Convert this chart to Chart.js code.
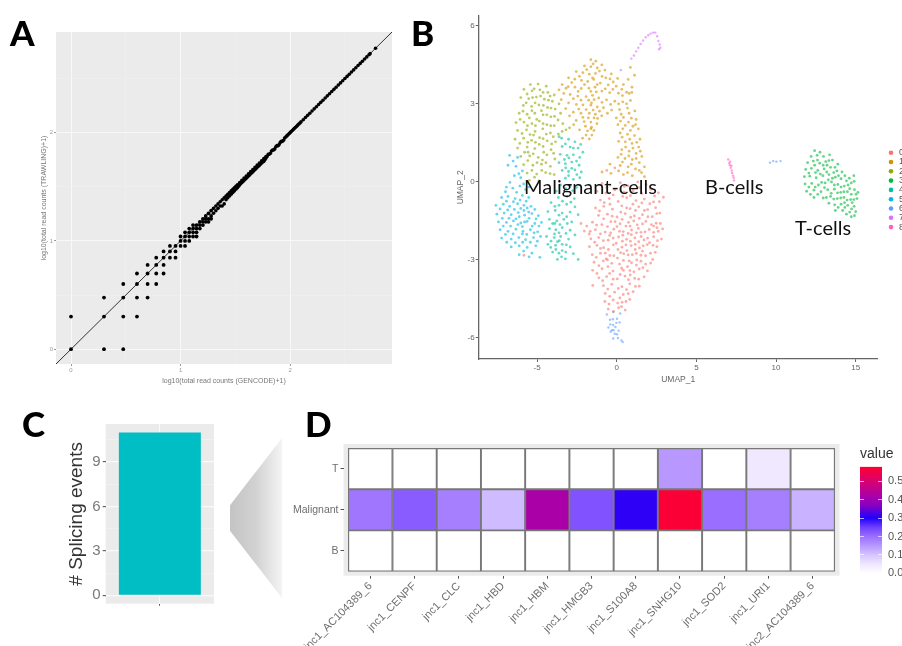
<!DOCTYPE html>
<html>
<head>
<meta charset="utf-8">
<title>Splicing figure</title>
<script src="https://cdn.jsdelivr.net/npm/chart.js@4"></script>
<style>
  html, body { margin: 0; padding: 0; background: #fff; }
  #stage { position: relative; width: 902px; height: 646px; overflow: hidden; filter: blur(0.55px); }
  canvas { position: absolute; }
  #chartB { filter: blur(0.5px); }
  .tag { position: absolute; font-family: Lato, "Open Sans", sans-serif; color: #111; line-height: 1; white-space: nowrap; }
  .letter { font-weight: 900; font-size: 35px; color: #000; }
  #wedge {
    position: absolute; left: 230px; top: 438px; width: 52px; height: 160px;
    background: linear-gradient(to right, #c4c4c4, #d2d2d2 50%, #f4f4f4);
    clip-path: polygon(0 42%, 100% 0, 100% 100%, 0 58%);
  }
</style>
</head>
<body>
<div id="stage">
  <canvas id="chartA" width="410" height="385" style="left:0;top:0"></canvas>
  <canvas id="chartB" width="482" height="385" style="left:420px;top:0"></canvas>
  <canvas id="chartC" width="170" height="215" style="left:60px;top:410px"></canvas>
  <div id="wedge"></div>
  <canvas id="chartD" width="570" height="216" style="left:280px;top:430px"></canvas>
  <canvas id="chartScale" width="60" height="140" style="left:860px;top:446px"></canvas>
  <div class="tag letter" style="left:10px;top:15px">A</div>
  <div class="tag letter" style="left:411px;top:15px">B</div>
  <div class="tag letter" style="left:22px;top:406px">C</div>
  <div class="tag letter" style="left:305px;top:406px">D</div>
  <div class="tag" style="left:524px;top:176px;font-size:20px">Malignant-cells</div>
  <div class="tag" style="left:705px;top:176px;font-size:20px">B-cells</div>
  <div class="tag" style="left:795px;top:217px;font-size:20px">T-cells</div>
</div>
<script>
// panel A, log10(count+1) pairs
const readCountsLow = [[0,0],[0,.301],[.301,0],[.477,0],[.301,.301],[.301,.477],[.477,.301],[.477,.477],[.477,.602],[.602,.301],[.602,.477],[.602,.602],[.602,.699],[.699,.477],[.699,.602],[.699,.699],[.699,.778],[.778,.602],[.778,.699],[.778,.778],[.778,.845],[.845,.699],[.845,.778],[.845,.845],[.845,.903],[.903,.845],[.903,.903],[.903,.954],[.954,.845],[.954,.903],[.954,.954],[1,.954],[1,1],[1,1.041],[1.041,.954],[1.041,1],[1.041,1.041],[1.041,1.079],[1.079,1],[1.079,1.041],[1.079,1.079],[1.079,1.114],[1.114,1.041],[1.114,1.079],[1.114,1.114],[1.114,1.146],[1.146,1.041],[1.146,1.079],[1.146,1.114],[1.146,1.146],[1.176,1.114],[1.176,1.146],[1.176,1.176],[1.204,1.146],[1.204,1.176],[1.204,1.204],[1.23,1.176],[1.23,1.204],[1.23,1.23],[1.255,1.176],[1.255,1.204],[1.255,1.255],[1.279,1.204],[1.279,1.23],[1.279,1.279]];
const readCountsHigh = [[1.301,1.255],[1.301,1.301],[1.322,1.279],[1.322,1.322],[1.342,1.301],[1.342,1.342],[1.362,1.322],[1.362,1.362],[1.38,1.322],[1.38,1.38],[1.398,1.342],[1.398,1.398],[1.415,1.38],[1.415,1.415],[1.431,1.398],[1.431,1.431],[1.447,1.415],[1.447,1.447],[1.462,1.431],[1.462,1.462],[1.477,1.447],[1.477,1.477],[1.491,1.462],[1.491,1.491],[1.505,1.477],[1.505,1.505],[1.519,1.491],[1.519,1.519],[1.53,1.505],[1.54,1.519],[1.54,1.54],[1.55,1.53],[1.56,1.54],[1.56,1.56],[1.57,1.55],[1.58,1.56],[1.58,1.58],[1.59,1.57],[1.6,1.58],[1.6,1.6],[1.61,1.59],[1.62,1.6],[1.62,1.62],[1.63,1.61],[1.64,1.62],[1.64,1.64],[1.65,1.63],[1.66,1.64],[1.66,1.66],[1.67,1.65],[1.68,1.66],[1.68,1.68],[1.69,1.67],[1.7,1.68],[1.7,1.7],[1.71,1.69],[1.72,1.7],[1.72,1.72],[1.73,1.71],[1.74,1.72],[1.74,1.74],[1.75,1.73],[1.76,1.735],[1.76,1.76],[1.77,1.75],[1.78,1.765],[1.78,1.78],[1.79,1.78],[1.8,1.8],[1.81,1.8],[1.82,1.81],[1.83,1.83],[1.84,1.84],[1.85,1.84],[1.86,1.85],[1.87,1.87],[1.88,1.88],[1.89,1.88],[1.9,1.89],[1.91,1.91],[1.92,1.92],[1.93,1.92],[1.94,1.93],[1.95,1.95],[1.96,1.96],[1.97,1.97],[1.98,1.98],[1.99,1.99],[2,2],[2.01,2.01],[2.02,2.02],[2.03,2.03],[2.04,2.04],[2.05,2.05],[2.06,2.06],[2.07,2.07],[2.08,2.08],[2.09,2.09],[2.1,2.1],[2.12,2.12],[2.14,2.14],[2.16,2.16],[2.18,2.18],[2.2,2.2],[2.22,2.22],[2.24,2.24],[2.26,2.26],[2.28,2.28],[2.3,2.3],[2.32,2.32],[2.34,2.34],[2.36,2.36],[2.38,2.38],[2.4,2.4],[2.42,2.42],[2.44,2.44],[2.46,2.46],[2.48,2.48],[2.5,2.5],[2.52,2.52],[2.54,2.54],[2.56,2.56],[2.58,2.58],[2.6,2.6],[2.62,2.62],[2.64,2.64],[2.66,2.66],[2.68,2.68],[2.7,2.7],[2.72,2.72],[2.73,2.73],[2.78,2.78]];
const identityLine = [[-0.137,-0.137],[2.93,2.93]];

// panel B, UMAP cells estimated by cluster
const cluster0 = [[-0.92,-0.08],[-0.41,-0.14],[0.23,-0.05],[0.71,-0.17],[1.32,-0.02],[1.84,-0.12],[-1.24,-0.38],[-0.68,-0.45],[-0.12,-0.33],[0.46,-0.41],[1.03,-0.36],[1.58,-0.47],[2.13,-0.31],[2.62,-0.44],[-1.02,-0.72],[-0.47,-0.66],[0.09,-0.77],[0.63,-0.63],[1.21,-0.74],[1.73,-0.68],[2.31,-0.79],[2.93,-0.61],[-1.33,-1.02],[-0.81,-0.96],[-0.27,-1.07],[0.32,-0.94],[0.84,-1.05],[1.38,-0.98],[1.94,-1.09],[2.44,-1.01],[-1.14,-1.31],[-0.58,-1.26],[0.02,-1.37],[0.53,-1.24],[1.11,-1.33],[1.62,-1.28],[2.23,-1.36],[2.71,-1.22],[-2.24,-1.62],[-1.52,-1.57],[-0.93,-1.66],[-0.37,-1.55],[0.21,-1.63],[0.74,-1.58],[1.29,-1.67],[1.83,-1.54],[2.48,-1.61],[-2.03,-1.91],[-1.34,-1.86],[-0.72,-1.95],[-0.18,-1.84],[0.41,-1.93],[0.93,-1.87],[1.52,-1.96],[2.04,-1.85],[2.61,-1.92],[2.88,-1.83],[-1.62,-2.21],[-1.13,-2.16],[-0.53,-2.26],[0.12,-2.14],[0.62,-2.23],[1.14,-2.17],[1.71,-2.25],[2.32,-2.13],[2.81,-2.22],[-1.71,-2.51],[-1.24,-2.46],[-0.82,-2.55],[-0.21,-2.44],[0.33,-2.53],[0.91,-2.47],[1.43,-2.56],[1.92,-2.43],[2.52,-2.51],[-1.53,-2.82],[-1.02,-2.76],[-0.43,-2.85],[0.24,-2.74],[0.72,-2.83],[1.23,-2.77],[1.81,-2.86],[2.42,-2.73],[-1.42,-3.11],[-0.84,-3.06],[-0.31,-3.15],[0.42,-3.04],[0.93,-3.13],[1.52,-3.07],[2.13,-3.14],[-1.51,-3.42],[-0.92,-3.36],[-0.23,-3.45],[0.31,-3.34],[0.83,-3.43],[1.41,-3.37],[1.93,-3.44],[-1.12,-3.71],[-0.63,-3.66],[0.04,-3.75],[0.52,-3.64],[1.13,-3.73],[1.72,-3.67],[-0.83,-4.01],[-0.31,-3.96],[0.33,-4.05],[0.82,-3.94],[1.42,-4.03],[-0.72,-4.31],[-0.13,-4.26],[0.41,-4.35],[1.03,-4.24],[-0.74,-4.62],[-0.22,-4.56],[0.34,-4.65],[0.82,-4.54],[-0.53,-4.91],[0.12,-4.86],[0.53,-4.95],[-0.62,-0.24],[0.48,-0.2],[1.58,-0.83],[0.26,-1.18],[-0.1,-1.55],[0.58,-1.72],[1.07,-1.52],[1.36,-1.81],[2.18,-1.66],[2.53,-1.78],[-0.44,-2.08],[0.38,-2.07],[0.92,-2.05],[1.53,-2.12],[2.06,-2.36],[-0.03,-2.38],[0.64,-2.66],[1.16,-2.62],[1.62,-2.68],[-0.66,-2.98],[0.05,-2.95],[0.68,-3.28],[1.24,-3.22],[-0.55,-3.28],[0.22,-3.58],[0.85,-3.6],[-1.72,-2.02],[-1.88,-1.72],
  [-0.22,-0.52],[0.86,-0.55],[1.42,-0.24],[2.38,-0.56],[-0.78,-0.82],[0.38,-0.58],[1.02,-0.88],[2.08,-0.86],[2.68,-0.78],[-1.08,-1.14],[-0.42,-0.88],[0.62,-1.02],[1.18,-1.12],[1.74,-1.12],[2.52,-1.24],[-0.82,-1.44],[-0.28,-1.34],[0.34,-1.46],[0.88,-1.38],[1.42,-1.42],[1.96,-1.36],[-1.26,-1.68],[-0.58,-1.74],[0.02,-1.74],[0.84,-1.72],[1.62,-1.64],[2.32,-1.72],[2.74,-1.62],[-1.66,-1.92],[-1.02,-2.02],[-0.38,-1.98],[0.18,-1.92],[0.72,-2],[1.24,-1.98],[1.78,-1.94],[2.32,-1.96],[-1.38,-2.34],[-0.84,-2.28],[-0.22,-2.18],[0.36,-2.3],[0.86,-2.3],[1.38,-2.32],[1.94,-2.18],[2.56,-2.28],[-1.02,-2.58],[-0.52,-2.62],[0.08,-2.62],[0.58,-2.44],[1.16,-2.42],[1.66,-2.48],[2.28,-2.46],[-1.28,-2.92],[-0.72,-2.76],[-0.18,-2.86],[0.44,-2.78],[0.98,-2.82],[1.52,-2.84],[2.12,-2.76],[-1.12,-3.24],[-0.58,-3.02],[0.18,-3.18],[0.78,-3.06],[1.26,-3.02],[1.82,-3.18],[2.26,-3],[-1.24,-3.54],[-0.44,-3.54],[0.42,-3.42],[1.08,-3.48],[1.64,-3.32],[-0.88,-3.82],[-0.22,-3.76],[0.74,-3.78],[1.38,-3.76],[-0.56,-4.14],[0.1,-4.12],[0.62,-4.16],[1.18,-4.04],[-0.44,-4.42],[0.2,-4.48],[0.72,-4.32],[-0.48,-4.72],[0.06,-4.68],[0.58,-4.62],[-0.2,-5],[0.3,-4.82],[-1.5,-4],[-0.62,0.42],[-0.12,0.52],[-5.82,-2.84]];
const cluster1 = [[-1.62,4.68],[-1.31,4.62],[-0.93,4.48],[-2.02,4.44],[-1.62,4.41],[-1.22,4.36],[-0.74,4.28],[-0.34,4.13],[-2.54,4.22],[-2.12,4.18],[-1.72,4.12],[-1.33,4.15],[-0.92,4.04],[-0.42,3.94],[0.06,3.96],[-3.02,3.98],[-2.63,3.93],[-2.21,3.88],[-1.82,3.84],[-1.44,3.92],[-1.03,3.78],[-0.53,3.71],[-0.03,3.66],[0.42,3.72],[-3.42,3.72],[-3.04,3.64],[-2.62,3.62],[-2.23,3.57],[-1.74,3.58],[-1.36,3.62],[-0.93,3.47],[-0.44,3.41],[0.11,3.39],[0.62,3.43],[0.96,3.62],[-3.32,3.38],[-2.92,3.34],[-2.44,3.28],[-1.92,3.26],[-1.52,3.31],[-1.13,3.21],[-0.64,3.13],[-0.12,3.08],[0.38,3.06],[0.86,3.11],[-3.02,3.02],[-2.53,2.96],[-2.12,2.94],[-1.62,2.93],[-1.22,2.86],[-0.83,2.83],[-0.32,2.74],[0.18,2.76],[0.68,2.82],[1.14,2.71],[-2.72,2.66],[-2.24,2.62],[-1.72,2.62],[-1.34,2.58],[-0.94,2.52],[-0.02,2.44],[0.42,2.46],[0.92,2.43],[1.22,2.38],[-2.54,2.34],[-2.04,2.3],[-1.62,2.28],[-1.24,2.22],[0.08,2.18],[0.54,2.15],[1.02,2.12],[1.36,2.02],[-2.33,1.98],[-1.83,1.94],[-1.43,1.96],[0.22,1.86],[0.68,1.81],[1.12,1.76],[1.46,1.62],[-2.14,1.66],[-1.72,1.63],[0.12,1.54],[0.54,1.52],[0.96,1.46],[1.38,1.32],[0.32,1.22],[0.78,1.16],[1.22,1.08],[1.58,0.96],[0.08,0.92],[0.52,0.88],[0.98,0.84],[1.42,0.72],[1.74,0.56],[-0.42,0.66],[0.22,0.61],[0.72,0.56],[1.18,0.48],[1.56,0.34],[-0.92,0.36],[-0.36,0.31],[0.42,0.26],[0.98,0.22],[1.74,0.18],[0.86,4.38],[1.12,4.08],[0.72,3.92],[-1.58,3.02],[-1.42,2.44],[-1.58,2.08],[0.95,3.42],
  [-1.48,4.52],[-1.08,4.24],[-1.88,4.3],[-2.34,4.04],[-1.52,3.98],[-0.68,3.98],[-0.22,3.82],[-2.82,3.8],[-2.02,3.72],[-1.22,3.72],[-0.72,3.56],[-0.24,3.54],[0.32,3.54],[-3.18,3.58],[-2.42,3.46],[-1.62,3.46],[-1.28,3.44],[0.36,3.3],[0.78,3.38],[-2.72,3.18],[-2.24,3.12],[-1.76,3.12],[-1.42,3.14],[-0.92,3.04],[-0.38,2.96],[0.12,2.98],[0.62,2.98],[-2.38,2.78],[-1.92,2.76],[-1.48,2.74],[-1.08,2.7],[-0.58,2.62],[0.28,2.58],[0.78,2.62],[-2.12,2.46],[-1.78,2.44],[-1.2,2.42],[0.24,2.32],[0.74,2.28],[1.18,2.18],[-1.96,2.12],[-1.62,2.02],[0.38,2.02],[0.86,1.96],[-1.92,1.78],[-1.56,1.78],[0.34,1.7],[0.82,1.62],[1.26,1.5],[0.56,1.32],[1.02,1.28],[1.48,1.16],[0.28,1.04],[0.76,0.98],[1.22,0.88],[0.36,0.74],[0.92,0.66],[1.42,0.42],[0.12,0.4],[0.68,0.34],[-3.62,3.52],[-3.48,3.14],[-3.2,2.8],[-2.96,2.52],[-2.7,2.18]];
const cluster2 = [[-5.42,3.72],[-4.93,3.74],[-4.42,3.66],[-5.82,3.54],[-5.31,3.48],[-4.82,3.52],[-4.32,3.42],[-3.92,3.32],[-6.02,3.22],[-5.52,3.18],[-5.04,3.24],[-4.54,3.16],[-4.04,3.08],[-3.62,2.98],[-5.86,2.92],[-5.34,2.88],[-4.88,2.94],[-4.34,2.84],[-3.86,2.78],[-3.52,2.62],[-6.12,2.62],[-5.62,2.58],[-5.14,2.62],[-4.62,2.56],[-4.13,2.48],[-3.68,2.36],[-6.32,2.26],[-5.82,2.28],[-5.32,2.22],[-4.86,2.32],[-4.38,2.18],[-3.92,2.14],[-6.22,1.96],[-5.66,1.98],[-5.12,1.92],[-4.64,2.02],[-4.16,1.86],[-3.66,1.82],[-6.38,1.62],[-5.84,1.66],[-5.34,1.58],[-4.84,1.68],[-4.36,1.56],[-3.84,1.52],[-6.22,1.28],[-5.62,1.32],[-5.14,1.26],[-4.62,1.34],[-4.12,1.22],[-6.02,0.96],[-5.46,0.98],[-4.92,0.92],[-4.38,1.02],[-3.88,0.86],[-5.84,0.64],[-5.26,0.62],[-4.72,0.66],[-4.16,0.58],[-5.62,0.32],[-5.02,0.28],[-4.46,0.34],[-3.92,0.26],[-5.48,0.04],[-4.88,0.02],[-5.12,3.02],[-4.72,2.72],[-5.02,2.38],[-4.62,2.22],[-5.22,1.78],[-4.86,1.42],[-4.42,1.82],[-5.32,2.72],[-4.18,3.28],[-5.56,1.12],[-4.66,0.82],
  [-5.18,3.56],[-4.62,3.42],[-5.62,3.36],[-5.28,3.22],[-4.78,3.28],[-4.28,3.12],[-5.68,3.02],[-4.6,2.92],[-4.12,2.82],[-5.88,2.7],[-5.48,2.44],[-4.38,2.56],[-3.9,2.5],[-6.06,2.38],[-5.6,2.14],[-5.1,2.14],[-4.14,2.14],[-5.94,1.84],[-5.44,1.8],[-4.62,1.64],[-3.98,1.72],[-6.08,1.46],[-5.58,1.5],[-5.1,1.5],[-4.58,1.12],[-4.08,1.44],[-5.78,1.12],[-5.24,1.06],[-3.96,1.08],[-5.58,0.8],[-5,0.72],[-4.44,0.72],[-5.32,0.42],[-4.7,0.42],[-4.18,0.3],[-5.16,0.16],[-3.38,2.22],[-3.18,1.98],[-3.42,1.92],[-2.96,2.06]];
const cluster3 = [[12.42,1.18],[12.76,1.12],[12.2,0.96],[12.58,1],[12.98,0.96],[13.36,1.02],[11.98,0.72],[12.34,0.78],[12.74,0.7],[13.12,0.76],[13.54,0.82],[13.88,0.66],[11.86,0.46],[12.22,0.5],[12.62,0.42],[13.02,0.48],[13.42,0.54],[13.82,0.4],[14.14,0.36],[11.78,0.18],[12.12,0.2],[12.52,0.14],[12.94,0.22],[13.32,0.26],[13.72,0.16],[14.08,0.1],[14.42,0.02],[11.82,-0.1],[12.24,-0.08],[12.66,-0.14],[13.08,-0.06],[13.48,-0.02],[13.88,-0.12],[14.28,-0.18],[14.72,-0.06],[14.88,0.22],[11.92,-0.38],[12.38,-0.34],[12.82,-0.4],[13.24,-0.32],[13.66,-0.3],[14.06,-0.42],[14.48,-0.4],[14.92,-0.32],[15.14,-0.42],[12.38,-0.62],[12.96,-0.64],[13.42,-0.58],[13.84,-0.66],[14.26,-0.62],[14.68,-0.7],[15.08,-0.66],[13.32,-0.84],[13.68,-0.9],[14.08,-0.88],[14.5,-0.92],[14.9,-0.96],[13.72,-1.12],[14.18,-1.12],[14.62,-1.18],[15,-1.16],[14.72,-1.36],[14.92,-1.32],[12.48,0.34],[13.2,0.62],[13.62,0.34],[14.62,-0.28],[14.78,-0.82],[14.3,-0.82],
  [12.6,0.82],[12.96,0.62],[13.32,0.8],[13.7,0.54],[12.06,0.32],[12.42,0.62],[12.78,0.28],[13.18,0.36],[13.54,0.12],[13.92,0.22],[14.32,0.22],[14.6,0.12],[12.06,-0.22],[12.46,-0.22],[12.86,-0.04],[13.28,0.06],[13.66,-0.14],[14.08,-0.22],[14.52,-0.14],[14.9,0],[12.16,-0.5],[12.62,-0.5],[13.04,-0.24],[13.46,-0.46],[13.86,-0.44],[14.26,-0.4],[14.72,-0.5],[15.02,-0.5],[13.16,-0.62],[13.62,-0.68],[14.06,-0.64],[14.46,-0.72],[14.88,-0.7],[13.9,-1],[14.32,-1],[14.74,-1.06],[14.42,-1.26]];
const cluster4 = [[-3.02,1.62],[-2.62,1.52],[-3.42,1.34],[-2.92,1.32],[-2.42,1.28],[-2.12,1.12],[-3.54,1.04],[-3.12,1],[-2.72,1.02],[-2.32,0.92],[-3.62,0.72],[-3.22,0.68],[-2.82,0.74],[-2.36,0.62],[-3.42,0.42],[-3.02,0.38],[-2.62,0.44],[-2.22,0.36],[-3.22,0.12],[-2.72,0.08],[-2.32,0.14],[-2.92,-0.18],[-2.52,-0.24],[-3.66,-0.62],[-3.12,-0.58],[-2.66,-0.66],[-4.12,-0.82],[-3.62,-0.92],[-3.14,-0.88],[-2.62,-0.98],[-4.32,-1.16],[-3.86,-1.12],[-3.42,-1.22],[-2.92,-1.18],[-2.42,-1.28],[-4.22,-1.46],[-3.76,-1.52],[-3.32,-1.46],[-2.82,-1.56],[-4.22,-1.82],[-3.82,-1.86],[-3.42,-1.78],[-2.92,-1.88],[-4.4,-2.12],[-3.92,-2.16],[-3.52,-2.12],[-3.02,-2.22],[-2.62,-2.06],[-4.32,-2.42],[-3.84,-2.46],[-3.42,-2.42],[-2.92,-2.52],[-4.02,-2.72],[-3.62,-2.76],[-3.2,-2.72],[-2.72,-2.78],[-3.72,-3],[-3.22,-2.98],[-3.88,-1.62],[-3.72,-2.32],[-3.9,-2.02],[-3.62,1.72],[-2.42,-3],
  [-3.22,1.44],[-2.72,1.28],[-3.28,0.84],[-3,0.9],[-2.52,0.78],[-3.2,0.52],[-2.82,0.5],[-3.02,0.22],[-2.5,0.26],[-2.76,-0.36],[-3.4,-0.76],[-2.88,-0.8],[-3.88,-0.96],[-3.62,-1.3],[-3.14,-1.36],[-4.02,-1.62],[-3.56,-1.66],[-3.1,-1.62],[-3.62,-1.98],[-3.18,-2],[-4.12,-2.3],[-3.6,-2.28],[-3.16,-2.44],[-4.14,-2.54],[-3.82,-2.62],[-3.42,-2.66],[-3.46,-2.9],[-3.52,-0.14],[-3.2,-0.28],[-3.8,-0.38],[-3.46,1.66],[-2.26,1.42]];
const cluster5 = [[-6.72,1],[-6.22,0.92],[-6.82,0.62],[-6.32,0.58],[-5.92,0.4],[-6.42,0.22],[-6.02,0.14],[-6.92,-0.22],[-6.52,-0.26],[-6.08,-0.18],[-5.72,-0.32],[-7.22,-0.62],[-6.82,-0.58],[-6.38,-0.66],[-5.92,-0.54],[-5.52,-0.62],[-7.58,-0.92],[-7.12,-0.88],[-6.72,-0.96],[-6.22,-0.86],[-5.82,-0.92],[-5.38,-0.96],[-7.52,-1.26],[-7.06,-1.22],[-6.62,-1.28],[-6.18,-1.2],[-5.78,-1.3],[-5.32,-1.24],[-4.92,-1.32],[-7.42,-1.56],[-6.92,-1.58],[-6.48,-1.52],[-6.02,-1.6],[-5.62,-1.54],[-5.14,-1.62],[-4.72,-1.58],[-7.32,-1.86],[-6.82,-1.92],[-6.32,-1.84],[-5.88,-1.92],[-5.42,-1.86],[-4.96,-1.94],[-7.22,-2.18],[-6.62,-2.22],[-6.14,-2.16],[-5.72,-2.24],[-5.22,-2.16],[-4.78,-2.12],[-6.62,-2.52],[-6.12,-2.48],[-5.62,-2.54],[-5.08,-2.48],[-6.12,-2.82],[-5.32,-2.76],[-4.82,-2.92],[-5.82,-1.12],[-6.12,-1.36],[-5.92,-1.74],[-5.52,-1.18],[-6.42,-1.08],[-5.5,-0.22],[-5.92,-2.02],
  [-6.5,0.78],[-6.14,0.3],[-6.7,-0.04],[-6.28,-0.42],[-5.84,-0.1],[-6.98,-0.4],[-6.06,-0.72],[-5.68,-0.76],[-6.92,-0.76],[-7.32,-1.06],[-6.48,-0.78],[-6.84,-1.1],[-6.02,-1.04],[-5.62,-1.02],[-5.14,-1.08],[-7.18,-1.42],[-6.76,-1.42],[-6.32,-1.44],[-5.5,-1.42],[-5.06,-1.44],[-7.12,-1.72],[-6.66,-1.72],[-6.2,-1.66],[-5.78,-1.56],[-5.3,-1.72],[-4.88,-1.72],[-6.98,-2.04],[-6.5,-2.02],[-5.64,-2.04],[-5.18,-1.98],[-6.9,-2.34],[-6.36,-2.36],[-5.9,-2.34],[-5.42,-2.34],[-4.98,-2.3],[-5.84,-2.68],[-5.5,-2.9]];
const cluster6 = [[-0.62,-5.12],[-0.22,-5.02],[0.22,-5.08],[-0.42,-5.32],[0.02,-5.28],[-0.22,-5.52],[-0.52,-5.62],[-0.08,-5.6],[0.18,-5.42],[-0.38,-5.78],[-0.12,-5.86],[0.12,-5.74],[-0.22,-6.04],[0.08,-6.02],[0.3,-6.12],[0.38,-6.18],[-0.3,-5.72],[-0.24,-5.3],[-0.4,-5.5],[-0.02,-5.44],[-0.2,-5.72],[0.02,-5.88],[9.62,0.72],[9.82,0.78],[10.02,0.76],[10.28,0.78]];
const cluster7 = [[0.92,4.72],[1.08,4.84],[1.22,5],[1.36,5.14],[1.5,5.28],[1.66,5.42],[1.82,5.54],[1.98,5.62],[2.12,5.68],[2.28,5.72],[2.42,5.72],[2.54,5.58],[2.62,5.4],[2.7,5.26],[2.74,5.14],[0.26,4.28],[2.66,5.08]];
const cluster8 = [[7,0.84],[7.06,0.7],[7.1,0.62],[7.16,0.52],[7.22,0.42],[7.24,0.32],[7.3,0.22],[7.34,0.14],[7.36,0.04],[7.12,0.76],[7.2,0.6]];
const clusterNames = ['0','1','2','3','4','5','6','7','8'];
const clusterColors = ['#F8766D','#D39200','#93AA00','#00BA38','#00C19F','#00B9E3','#619CFF','#DB72FB','#FF61C3'];

// panel C
const splicingGroups = [''];
const splicingEvents = [11];

// panel D
const junctions = ['jnc1_AC104389_6','jnc1_CENPF','jnc1_CLC','jnc1_HBD','jnc1_HBM','jnc1_HMGB3','jnc1_S100A8','jnc1_SNHG10','jnc1_SOD2','jnc1_URI1','jnc2_AC104389_6'];
const cellTypes = ['B','Malignant','T'];
const valuesB = [0,0,0,0,0,0,0,0,0,0,0];
const valuesMalignant = [0.19,0.22,0.18,0.11,0.42,0.23,0.31,0.57,0.2,0.18,0.12];
const valuesT = [0,0,0,0,0,0,0,0.15,0,0.05,0];
const scaleMax = [0.578];
const heatStops = [[0,'#ffffff'],[0.05,'#efe8ff'],[0.1,'#d5c4ff'],[0.15,'#b898ff'],[0.2,'#9a6eff'],[0.25,'#7040ff'],[0.3,'#2000ff'],[0.37,'#8a00c0'],[0.42,'#aa00a8'],[0.5,'#d80070'],[0.578,'#ff0030']];

const toXY = pts => pts.map(p => ({ x: p[0], y: p[1] }));
const GREY_TEXT = '#7a7a7a';

function heatColor(v) {
  for (let i = 1; i < heatStops.length; i++) {
    if (v <= heatStops[i][0]) {
      const [a, ca] = heatStops[i - 1];
      const [b, cb] = heatStops[i];
      const t = (v - a) / (b - a);
      const mix = k => {
        const p = parseInt(ca.substr(k, 2), 16);
        const q = parseInt(cb.substr(k, 2), 16);
        return Math.round(p + (q - p) * t);
      };
      return `rgb(${mix(1)},${mix(3)},${mix(5)})`;
    }
  }
  return heatStops[heatStops.length - 1][1];
}

// grey ggplot panel behind the plot area
const panelFill = {
  id: 'panelFill',
  beforeDraw(chart, args, opts) {
    if (!opts.color) return;
    const { ctx, chartArea: a } = chart;
    ctx.save();
    ctx.fillStyle = opts.color;
    ctx.fillRect(a.left, a.top, a.right - a.left, a.bottom - a.top);
    ctx.restore();
  }
};

// ggplot style legend in the right margin of panel B, runs off the page edge
const clusterLegend = {
  id: 'clusterLegend',
  afterDraw(chart, args, opts) {
    if (!opts.show) return;
    const { ctx } = chart;
    ctx.save();
    ctx.font = '9px "Liberation Sans"';
    ctx.textBaseline = 'middle';
    chart.data.datasets.forEach((ds, i) => {
      const y = 152.7 + i * 9.3;
      ctx.fillStyle = ds.legendColor;
      ctx.beginPath();
      ctx.arc(471, y, 2.3, 0, Math.PI * 2);
      ctx.fill();
      ctx.fillStyle = '#555';
      ctx.fillText(ds.label, 479, y);
    });
    ctx.restore();
  }
};

Chart.register(panelFill, clusterLegend);
Chart.defaults.font.family = '"Liberation Sans", Arial, sans-serif';
Chart.defaults.animation = false;
Chart.defaults.responsive = false;
Chart.defaults.plugins.legend.display = false;
Chart.defaults.plugins.tooltip.enabled = false;

// panel A
function halfTicks(scale) {
  scale.ticks = [0, 0.5, 1, 1.5, 2, 2.5].map(v => ({ value: v }));
}
const gridA = {
  color: c => (c.tick && Number.isInteger(c.tick.value) ? '#f8f8f8' : '#f1f1f1'),
  lineWidth: c => (c.tick && Number.isInteger(c.tick.value) ? 1 : 0.5),
  tickColor: c => (c.tick && Number.isInteger(c.tick.value) ? '#999' : 'transparent'),
  tickLength: 2
};
new Chart(document.getElementById('chartA'), {
  type: 'scatter',
  data: {
    datasets: [
      { data: toXY(readCountsLow), backgroundColor: '#000', borderWidth: 0, pointRadius: 1.9 },
      { data: toXY(readCountsHigh), backgroundColor: '#000', borderWidth: 0, pointRadius: 1.8 },
      { data: toXY(identityLine), showLine: true, borderColor: '#333', borderWidth: 1, pointRadius: 0 }
    ]
  },
  options: {
    layout: { padding: { left: 0, top: 32, right: 18, bottom: 0 } },
    plugins: { panelFill: { color: '#ebebeb' } },
    scales: {
      x: {
        type: 'linear', min: -0.137, max: 2.93,
        afterBuildTicks: halfTicks,
        afterFit: s => { s.height = 21; },
        grid: gridA, border: { display: false },
        ticks: { autoSkip: false, maxRotation: 0, padding: 1, color: '#999', font: { size: 6 }, callback: v => (Number.isInteger(v) ? v : '') },
        title: { display: true, text: 'log10(total read counts (GENCODE)+1)', color: '#777', font: { size: 7 }, padding: { top: 4, bottom: 0 } }
      },
      y: {
        type: 'linear', min: -0.137, max: 2.93,
        afterBuildTicks: halfTicks,
        afterFit: s => { s.width = 56; },
        grid: gridA, border: { display: false },
        ticks: { autoSkip: false, padding: 1, color: '#999', font: { size: 6 }, callback: v => (Number.isInteger(v) ? v : '') },
        title: { display: true, text: 'log10(total read counts (TRAWLING)+1)', color: '#777', font: { size: 7 }, padding: { top: 40, bottom: 0 } }
      }
    }
  }
});

// panel B
const allClusters = [cluster0, cluster1, cluster2, cluster3, cluster4, cluster5, cluster6, cluster7, cluster8];
const axisB = { drawOnChartArea: false, color: '#666', tickLength: 3 };
new Chart(document.getElementById('chartB'), {
  type: 'scatter',
  data: {
    datasets: allClusters.map((pts, i) => ({
      label: clusterNames[i],
      legendColor: clusterColors[i],
      data: toXY(pts),
      backgroundColor: clusterColors[i] + '99',
      borderWidth: 0,
      pointRadius: i > 5 ? 1.2 : 1.4
    }))
  },
  options: {
    layout: { padding: { left: 0, top: 15.7, right: 24.3, bottom: 0 } },
    plugins: { clusterLegend: { show: true } },
    scales: {
      x: {
        type: 'linear', min: -8.66, max: 16.38,
        afterBuildTicks: s => { s.ticks = [-5, 0, 5, 10, 15].map(v => ({ value: v })); },
        afterFit: s => { s.height = 26; },
        grid: axisB, border: { color: '#666', width: 1.3 },
        ticks: { autoSkip: false, maxRotation: 0, padding: 1, color: '#666', font: { size: 8 } },
        title: { display: true, text: 'UMAP_1', color: '#666', font: { size: 8.5 }, padding: { top: 4, bottom: 0 } }
      },
      y: {
        type: 'linear', min: -6.83, max: 6.37,
        afterBuildTicks: s => { s.ticks = [-6, -3, 0, 3, 6].map(v => ({ value: v })); },
        afterFit: s => { s.width = 58.7; },
        grid: axisB, border: { color: '#666', width: 1.3 },
        ticks: { autoSkip: false, padding: 1, color: '#666', font: { size: 8 } },
        title: { display: true, text: 'UMAP_2', color: '#666', font: { size: 8.5 }, padding: { top: 36, bottom: 0 } }
      }
    }
  }
});

// panel C
const gridC = {
  color: c => (c.tick && c.tick.value % 3 === 0 ? '#fafafa' : '#f3f3f3'),
  lineWidth: c => (c.tick && c.tick.value % 3 === 0 ? 1.2 : 0.6),
  tickColor: c => (c.tick && c.tick.value % 3 === 0 ? '#666' : 'transparent'),
  tickLength: 3
};
new Chart(document.getElementById('chartC'), {
  type: 'bar',
  data: {
    labels: splicingGroups,
    datasets: [{ data: splicingEvents, backgroundColor: '#00BEC4', barPercentage: 0.757, categoryPercentage: 1 }]
  },
  options: {
    layout: { padding: { left: 0, top: 14, right: 16, bottom: 0 } },
    plugins: { panelFill: { color: '#ebebeb' } },
    scales: {
      x: {
        afterFit: s => { s.height = 21.3; },
        grid: { color: '#fafafa', tickColor: '#555', tickLength: 2, offset: false },
        border: { display: false },
        ticks: { font: { size: 6 } }
      },
      y: {
        type: 'linear', min: -0.57, max: 11.57,
        afterBuildTicks: s => { s.ticks = [0, 1.5, 3, 4.5, 6, 7.5, 9, 10.5].map(v => ({ value: v })); },
        afterFit: s => { s.width = 45.7; },
        grid: gridC, border: { display: false },
        ticks: { autoSkip: false, padding: 2, color: GREY_TEXT, font: { size: 15 }, callback: v => (v % 3 === 0 ? v : '') },
        title: { display: true, text: '# Splicing events', color: '#333', font: { size: 19 }, padding: { top: 5, bottom: 0 } }
      }
    }
  }
});

// panel D, stacked unit bars make the heatmap cells
const rowValues = [valuesB, valuesMalignant, valuesT];
new Chart(document.getElementById('chartD'), {
  type: 'bar',
  data: {
    datasets: cellTypes.map((name, r) => ({
      label: name,
      data: junctions.map((j, i) => ({ x: i + 1, y: 1 })),
      backgroundColor: rowValues[r].map(heatColor),
      borderColor: '#777',
      borderWidth: 1.3,
      borderSkipped: false,
      barPercentage: 1,
      categoryPercentage: 1
    }))
  },
  options: {
    layout: { padding: { left: 0, top: 14, right: 10.5, bottom: 0 } },
    plugins: { panelFill: { color: '#ebebeb' } },
    scales: {
      x: {
        type: 'linear', stacked: true, offset: false, min: 0.393, max: 11.606,
        afterBuildTicks: s => { s.ticks = junctions.map((j, i) => ({ value: i + 1 })); },
        afterFit: s => { s.height = 70.3; },
        grid: { drawOnChartArea: false, color: '#555', tickLength: 3, offset: false },
        border: { display: false },
        ticks: { autoSkip: false, minRotation: 45, maxRotation: 45, padding: 1, color: '#6e6e6e', font: { size: 11 }, callback: v => junctions[v - 1] }
      },
      y: {
        type: 'linear', stacked: true, min: -0.105, max: 3.105,
        afterBuildTicks: s => { s.ticks = cellTypes.map((c, i) => ({ value: i + 0.5 })); },
        afterFit: s => { s.width = 63.5; },
        grid: { drawOnChartArea: false, color: '#555', tickLength: 3 },
        border: { display: false },
        ticks: { autoSkip: false, padding: 2, color: '#6e6e6e', font: { size: 10.5 }, callback: v => cellTypes[v - 0.5] }
      }
    }
  }
});

// colour key for panel D
new Chart(document.getElementById('chartScale'), {
  type: 'bar',
  data: {
    labels: ['value'],
    datasets: [{
      data: scaleMax,
      barPercentage: 1,
      categoryPercentage: 1,
      backgroundColor: c => {
        const a = c.chart.chartArea;
        if (!a) return '#fff';
        const g = c.chart.ctx.createLinearGradient(0, a.bottom, 0, a.top);
        heatStops.forEach(s => g.addColorStop(s[0] / scaleMax[0], s[1]));
        return g;
      }
    }]
  },
  options: {
    layout: { padding: { left: 0, top: 0, right: 0, bottom: 3 } },
    plugins: {
      title: { display: true, text: 'value', align: 'start', color: '#333', font: { size: 14, weight: 'normal' }, padding: { top: 0, bottom: 4 } }
    },
    scales: {
      x: { display: false },
      y: {
        type: 'linear', position: 'right', min: 0, max: scaleMax[0],
        afterBuildTicks: s => { s.ticks = [0, 0.1, 0.2, 0.3, 0.4, 0.5].map(v => ({ value: v })); },
        afterFit: s => { s.width = 38; },
        grid: { z: 1, drawTicks: false, color: '#ffffffaa' },
        border: { display: false, dash: [4, 14, 4] },
        ticks: { autoSkip: false, padding: 6, color: '#555', font: { size: 11 }, callback: v => v.toFixed(1) }
      }
    }
  }
});
</script>
</body>
</html>
